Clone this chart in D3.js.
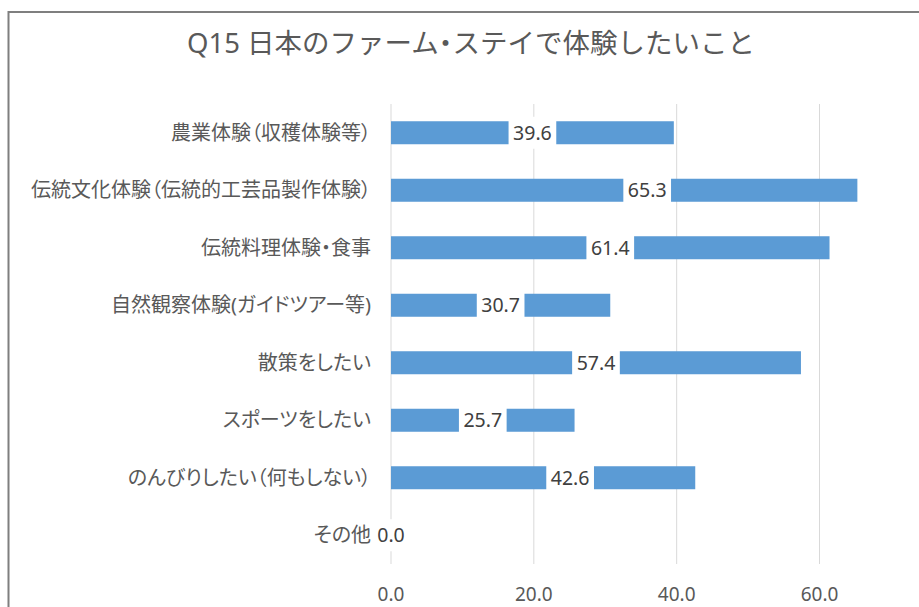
<!DOCTYPE html>
<html>
<head>
<meta charset="utf-8">
<script src="https://cdn.jsdelivr.net/npm/d3@7"></script>
<style>
  body { margin: 0; background: #fff; }
  text { font-family: "Noto Sans", "Noto Sans CJK JP", sans-serif; }
  .jp { font-feature-settings: "palt" 1; }
  .ttl { font-feature-settings: "halt" 1; }
</style>
</head>
<body>
<script>
const categories = [
  "農業体験（収穫体験等）",
  "伝統文化体験（伝統的工芸品製作体験）",
  "伝統料理体験・食事",
  "自然観察体験(ガイドツアー等)",
  "散策をしたい",
  "スポーツをしたい",
  "のんびりしたい（何もしない）",
  "その他"
];
const values = [39.6, 65.3, 61.4, 30.7, 57.4, 25.7, 42.6, 0.0];
const xTicks = [0, 20, 40, 60];
const title = "Q15 日本のファーム・ステイで体験したいこと";

const width = 919, height = 607;

const svg = d3.select("body")
    .append("svg")
    .attr("width", width)
    .attr("height", height);

// chart frame (runs past the window on right and bottom)
svg.append("rect")
    .attr("x", 8.5)
    .attr("y", 12)
    .attr("width", 1000)
    .attr("height", 700)
    .attr("fill", "none")
    .attr("stroke", "#7f7f7f")
    .attr("stroke-width", 2);

svg.append("text")
    .attr("class", "ttl")
    .attr("x", 471)
    .attr("y", 53)
    .attr("text-anchor", "middle")
    .attr("font-size", 27.5)
    .attr("fill", "#595959")
    .text(title);

const x = d3.scaleLinear()
    .domain([0, 80])
    .range([391, 391 + 80 * 7.142]);

const y = d3.scaleBand()
    .domain(categories)
    .range([104, 564])
    .paddingInner(0.6)
    .paddingOuter(0.3);

// gridlines
svg.append("g")
    .selectAll("line")
    .data(xTicks)
    .enter().append("line")
    .attr("x1", d => x(d))
    .attr("x2", d => x(d))
    .attr("y1", 104)
    .attr("y2", 564)
    .attr("stroke", "#d9d9d9")
    .attr("stroke-width", 1);

// tick labels
svg.append("g")
    .selectAll("text")
    .data(xTicks)
    .enter().append("text")
    .attr("x", d => x(d))
    .attr("y", 601)
    .attr("text-anchor", "middle")
    .attr("font-size", 19)
    .attr("fill", "#595959")
    .text(d => d.toFixed(1));

// bars
svg.append("g")
    .selectAll("rect")
    .data(values)
    .enter().append("rect")
    .attr("x", x(0))
    .attr("y", (d, i) => y(categories[i]))
    .attr("width", d => x(d) - x(0))
    .attr("height", y.bandwidth())
    .attr("fill", "#5b9bd5");

// data labels centred on bars, white box behind
// (two labels were dragged a little to the right in the original)
const nudge = { 1: 23, 6: 27 };
const lab = svg.append("g")
    .selectAll("g")
    .data(values)
    .enter().append("g")
    .attr("transform", (d, i) =>
        `translate(${x(d / 2) + (nudge[i] || 0)},${y(categories[i]) + y.bandwidth() / 2})`);

lab.append("rect")
    .attr("y", -16)
    .attr("height", 32)
    .attr("fill", "#fff");

lab.append("text")
    .attr("text-anchor", "middle")
    .attr("y", 7)
    .attr("font-size", 19.5)
    .attr("fill", "#404040")
    .text(d => d.toFixed(1))
    .each(function() {
        const w = this.getComputedTextLength() + 9;
        d3.select(this.parentNode).select("rect")
            .attr("x", -w / 2)
            .attr("width", w);
    });

// category labels
svg.append("g")
    .selectAll("text")
    .data(categories)
    .enter().append("text")
    .attr("class", "jp")
    .attr("x", 371)
    .attr("y", d => y(d) + y.bandwidth() / 2 + 7)
    .attr("text-anchor", "end")
    .attr("font-size", 20)
    .attr("fill", "#595959")
    .text(d => d);
</script>
</body>
</html>
